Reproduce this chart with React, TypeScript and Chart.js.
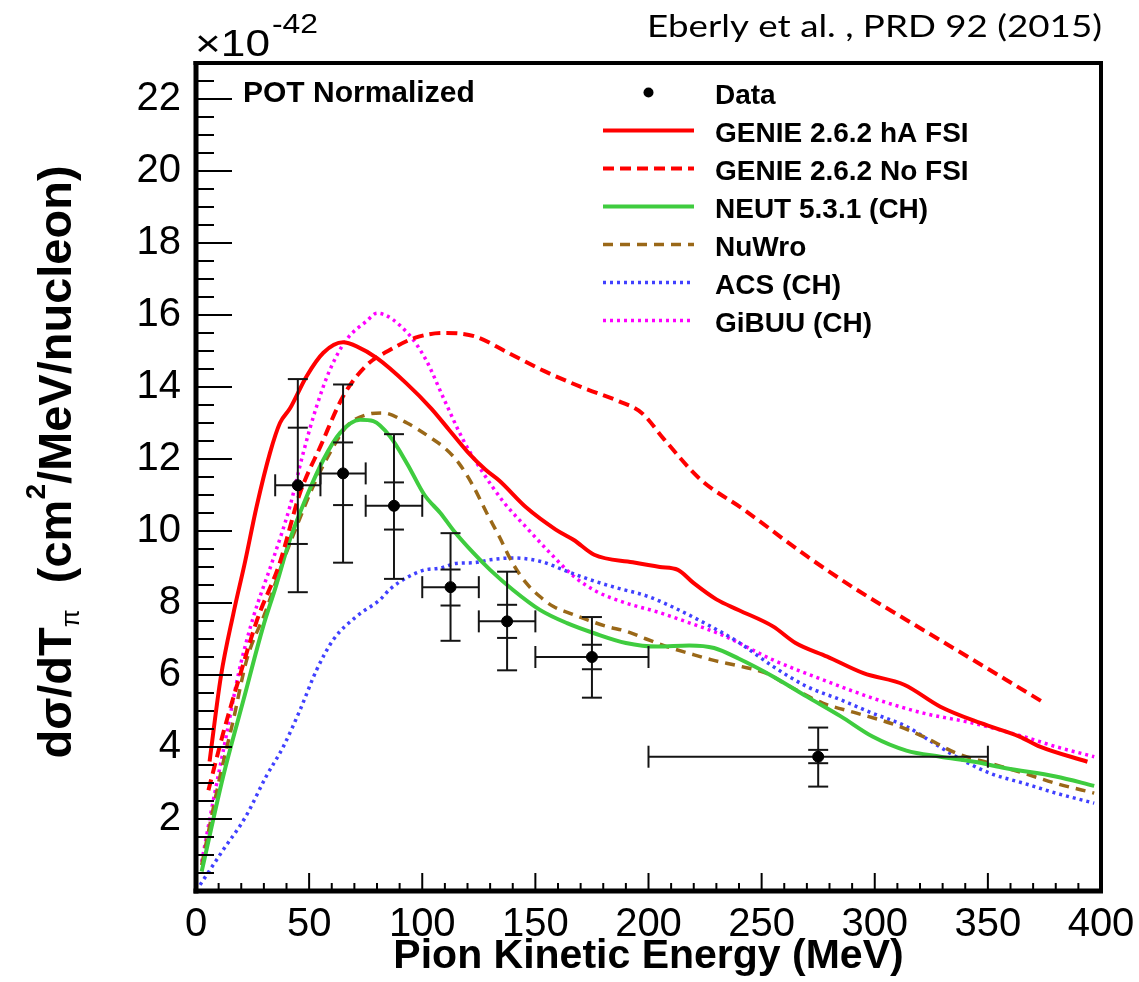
import React, { useEffect, useRef } from "react";
import { Chart, registerables } from "chart.js";

Chart.register(...registerables);

const FONT = "'Liberation Sans', Arial, Helvetica, sans-serif";

// ---- tick labels ----
const xTickValues = [0, 50, 100, 150, 200, 250, 300, 350, 400];
const yTickValues = [2, 4, 6, 8, 10, 12, 14, 16, 18, 20, 22];

// ---- measured data (MINERvA) ----
const dataE = [45, 65, 87.5, 112.5, 137.5, 175, 275];
const dataY = [11.27, 11.6, 10.7, 8.44, 7.49, 6.5, 3.73];
const binLo = [35, 55, 75, 100, 125, 150, 200];
const binHi = [55, 75, 100, 125, 150, 200, 350];
const statLo = [9.64, 10.72, 10.04, 7.93, 7.03, 6.16, 3.55];
const statHi = [12.87, 12.46, 11.35, 8.93, 7.95, 6.84, 3.92];
const totLo = [8.3, 9.12, 8.67, 6.95, 6.13, 5.37, 2.9];
const totHi = [14.22, 14.07, 12.69, 9.94, 8.87, 7.61, 4.54];

// ---- model curves ----
const genieFsiE = [6, 11, 16.5, 21.7, 26.8, 32.7, 37.1, 41.5, 48.9, 56.3, 65, 71, 80, 93, 104, 112, 120, 128, 134, 146, 159, 167, 176, 193, 205, 213, 220, 230, 240, 255, 265, 279, 295, 313, 329, 347, 364, 373, 394];
const genieFsiY = [3.6, 5.96, 7.7, 9.15, 10.68, 12.17, 13.0, 13.4, 14.3, 14.95, 15.24, 15.13, 14.8, 14.1, 13.4, 12.8, 12.2, 11.7, 11.4, 10.65, 10.04, 9.75, 9.34, 9.13, 9.0, 8.92, 8.55, 8.1, 7.8, 7.35, 6.89, 6.51, 6.05, 5.73, 5.12, 4.66, 4.29, 4.01, 3.59];

const genieNoFsiE = [5.5, 12, 19, 27, 37, 46, 55, 65, 75, 86, 97, 109, 123, 138, 154, 171, 187, 197, 207, 223, 242, 270, 292, 314, 336, 358, 375];
const genieNoFsiY = [2.8, 4.38, 5.9, 7.53, 9.11, 11.06, 12.35, 13.74, 14.58, 15.04, 15.37, 15.5, 15.41, 14.95, 14.44, 13.98, 13.6, 13.28, 12.54, 11.43, 10.6, 9.3, 8.37, 7.53, 6.7, 5.87, 5.22];

const neutE = [2.5, 12, 21, 29.7, 35, 41.5, 48.9, 56.3, 63.6, 72.5, 78.4, 85.7, 93.5, 101, 108, 114, 122.6, 130, 140, 152, 164, 176, 190, 204, 218, 229, 240, 255, 270, 285, 299, 314, 329, 344, 358, 380, 397];
const neutY = [0.54, 3.18, 5.31, 7.35, 8.4, 9.76, 10.96, 11.98, 12.72, 13.09, 13.05, 12.63, 11.85, 11.0, 10.5, 10.0, 9.39, 8.92, 8.37, 7.81, 7.44, 7.16, 6.89, 6.79, 6.82, 6.75, 6.45, 5.96, 5.4, 4.85, 4.29, 3.9, 3.73, 3.59, 3.41, 3.18, 2.92];

const nuwroE = [2.5, 10.6, 16.5, 22.4, 31, 37, 44.5, 51.8, 59.2, 66.6, 75.4, 82.8, 93.3, 103.5, 110, 116, 122.6, 128.5, 134, 140, 146, 152, 158, 165, 173, 181.5, 190.4, 199, 208, 218, 228, 240, 252, 262.5, 277, 292, 307, 321.5, 336, 351, 366, 380, 397];
const nuwroY = [0.72, 3.18, 4.75, 6.42, 7.8, 8.9, 10.13, 11.24, 12.17, 12.91, 13.23, 13.28, 13.0, 12.6, 12.3, 11.9, 11.24, 10.5, 9.85, 9.1, 8.55, 8.18, 7.9, 7.72, 7.53, 7.35, 7.21, 7.0, 6.79, 6.6, 6.42, 6.25, 6.05, 5.68, 5.22, 4.94, 4.66, 4.29, 3.83, 3.55, 3.27, 2.99, 2.72];

const acsE = [1.8, 12, 22, 31, 38.6, 46, 53.3, 60.7, 71, 81.3, 86, 100, 108, 115, 123, 130, 140, 152, 164, 174, 186, 199, 211, 226, 240, 255, 270, 285, 299, 314, 326, 336, 351, 366, 380, 397];
const acsY = [0.17, 1.14, 2.07, 3.18, 4.01, 5.03, 6.14, 6.98, 7.63, 8.09, 8.4, 8.9, 8.97, 9.1, 9.12, 9.2, 9.25, 9.16, 8.88, 8.65, 8.42, 8.2, 7.88, 7.4, 6.9, 6.24, 5.68, 5.31, 4.94, 4.57, 4.11, 3.73, 3.27, 2.99, 2.72, 2.44];

const gibuuE = [2.5, 7.7, 13.6, 19, 25.3, 34, 41.5, 47.4, 53.3, 59.2, 66.6, 75.4, 80, 93.5, 101.6, 109.7, 118, 126, 136, 146, 156.5, 167, 177, 190, 204, 218, 233, 255, 277, 299, 321.5, 343.6, 365.7, 380, 397];
const gibuuY = [0.81, 2.53, 4.38, 6.1, 7.6, 9.2, 10.68, 12.17, 13.46, 14.48, 15.32, 15.83, 16.05, 15.5, 14.76, 13.65, 12.54, 11.7, 10.8, 10.1, 9.39, 8.74, 8.32, 8.0, 7.75, 7.45, 7.1, 6.42, 5.87, 5.36, 4.94, 4.66, 4.29, 4.01, 3.73];

const dataLabel = "Data";
const curveLabels = ["GENIE 2.6.2 hA FSI", "GENIE 2.6.2 No FSI", "NEUT 5.3.1 (CH)", "NuWro", "ACS (CH)", "GiBUU (CH)"];
const curveXs = [genieFsiE, genieNoFsiE, neutE, nuwroE, acsE, gibuuE];
const curveYs = [genieFsiY, genieNoFsiY, neutY, nuwroY, acsY, gibuuY];

// styles (kept apart from data)
const curveStyles = [
  { color: "#ff0000", width: 4, dash: [] as number[] },
  { color: "#ff0000", width: 4, dash: [11, 6] },
  { color: "#3fcc3f", width: 4, dash: [] as number[] },
  { color: "#9a6818", width: 3.5, dash: [10, 7] },
  { color: "#4040ff", width: 3.5, dash: [3, 4] },
  { color: "#ff00ff", width: 3.5, dash: [3, 4] },
];

function seg(ctx: CanvasRenderingContext2D, x0: number, y0: number, x1: number, y1: number) {
  ctx.beginPath();
  ctx.moveTo(x0, y0);
  ctx.lineTo(x1, y1);
  ctx.stroke();
}

function fitText(ctx: CanvasRenderingContext2D, text: string, x: number, y: number, font: string, targetW?: number) {
  ctx.save();
  ctx.font = font;
  ctx.textAlign = "left";
  ctx.textBaseline = "alphabetic";
  const w = ctx.measureText(text).width;
  ctx.translate(x, y);
  if (targetW) ctx.scale(targetW / w, 1);
  ctx.fillText(text, 0, 0);
  ctx.restore();
}

const decorPlugin = {
  id: "decor",
  beforeDatasetDraw(chart: any, args: any) {
    if (args.index !== 0) return;
    const ctx: CanvasRenderingContext2D = chart.ctx;
    const xs = chart.scales.x;
    const ys = chart.scales.y;
    ctx.save();
    ctx.strokeStyle = "#141414";
    ctx.lineWidth = 2;
    ctx.setLineDash([]);
    for (let i = 0; i < dataE.length; i++) {
      const px = xs.getPixelForValue(dataE[i]);
      const py = ys.getPixelForValue(dataY[i]);
      const x0 = xs.getPixelForValue(binLo[i]);
      const x1 = xs.getPixelForValue(binHi[i]);
      seg(ctx, x0, py, x1, py);
      seg(ctx, x0, py - 11, x0, py + 11);
      seg(ctx, x1, py - 11, x1, py + 11);
      const t0 = ys.getPixelForValue(totLo[i]);
      const t1 = ys.getPixelForValue(totHi[i]);
      seg(ctx, px, t0, px, t1);
      for (const v of [totLo[i], totHi[i], statLo[i], statHi[i]]) {
        const yy = ys.getPixelForValue(v);
        seg(ctx, px - 10, yy, px + 10, yy);
      }
    }
    ctx.restore();
  },
  afterDraw(chart: any) {
    const ctx: CanvasRenderingContext2D = chart.ctx;
    const ca = chart.chartArea;
    const xs = chart.scales.x;
    const ys = chart.scales.y;
    ctx.save();
    ctx.setLineDash([]);
    ctx.strokeStyle = "#000";
    // frame
    ctx.lineWidth = 4;
    seg(ctx, ca.left - 2.5, ca.top, ca.right + 2, ca.top);
    seg(ctx, ca.right, ca.top, ca.right, ca.bottom);
    ctx.lineWidth = 5;
    seg(ctx, ca.left, ca.top - 2, ca.left, ca.bottom + 2.5);
    seg(ctx, ca.left - 2.5, ca.bottom, ca.right + 2, ca.bottom);
    // ticks
    ctx.lineWidth = 2;
    for (let v = 10; v < 400; v += 10) {
      const px = xs.getPixelForValue(v);
      const len = v % 50 === 0 ? 18 : 8;
      seg(ctx, px, ca.bottom, px, ca.bottom - len);
    }
    for (let v = 0.5; v < 23; v += 0.5) {
      const py = ys.getPixelForValue(v);
      const len = v % 2 === 0 ? 36 : 18;
      seg(ctx, ca.left, py, ca.left + len, py);
    }

    // legend
    ctx.fillStyle = "#000";
    const legX0 = 603, legX1 = 694, textX = 715, base0 = 103.5, step = 38;
    ctx.beginPath();
    ctx.arc(648.5, base0 - 11, 5, 0, Math.PI * 2);
    ctx.fill();
    fitText(ctx, dataLabel, textX, base0, `bold 28px ${FONT}`);
    curveLabels.forEach((lab, i) => {
      const b = base0 + step * (i + 1);
      const st = curveStyles[i];
      ctx.save();
      ctx.strokeStyle = st.color;
      ctx.lineWidth = st.width;
      ctx.setLineDash(st.dash);
      seg(ctx, legX0, b - 11, legX1, b - 11);
      ctx.restore();
      fitText(ctx, lab, textX, b, `bold 28px ${FONT}`);
    });

    // POT Normalized
    fitText(ctx, "POT Normalized", 243, 101.5, `bold 30px ${FONT}`);

    // x10^-42
    fitText(ctx, "\u00d710", 195, 56, `36px ${FONT}`, 75);
    fitText(ctx, "-42", 272, 33, `28px ${FONT}`, 46);

    // citation
    fitText(ctx, "Eberly et al. , PRD 92 (2015)", 647, 37, `31px Lato, 'Open Sans', sans-serif`, 455);

    // y title with sub/superscripts
    const runs = [
      { t: "d\u03c3/dT", f: `bold 47px ${FONT}`, dy: 0 },
      { t: "\u03c0", f: `26px ${FONT}`, dy: 8 },
      { t: "  (cm", f: `bold 47px ${FONT}`, dy: 0 },
      { t: "2", f: `bold 28px ${FONT}`, dy: -26 },
      { t: "/MeV/nucleon)", f: `bold 47px ${FONT}`, dy: 0 },
    ];
    ctx.save();
    ctx.translate(71, 462);
    ctx.rotate(-Math.PI / 2);
    ctx.textBaseline = "alphabetic";
    ctx.textAlign = "left";
    let total = 0;
    const ws = runs.map((r) => {
      ctx.font = r.f;
      const w = ctx.measureText(r.t).width;
      total += w;
      return w;
    });
    let cx = -total / 2;
    runs.forEach((r, i) => {
      ctx.font = r.f;
      ctx.fillText(r.t, cx, r.dy);
      cx += ws[i];
    });
    ctx.restore();

    ctx.restore();
  },
};

export default function App() {
  const ref = useRef<HTMLCanvasElement>(null);
  useEffect(() => {
    const canvas = ref.current;
    if (!canvas) return;
    const datasets: any[] = [
      {
        type: "scatter",
        label: dataLabel,
        data: dataE.map((x, i) => ({ x, y: dataY[i] })),
        pointRadius: 5.5,
        pointBackgroundColor: "#000",
        pointBorderColor: "#000",
        showLine: false,
        order: 0,
      },
      ...curveLabels.map((lab, i) => ({
        type: "line",
        label: lab,
        data: curveXs[i].map((x, j) => ({ x, y: curveYs[i][j] })),
        borderColor: curveStyles[i].color,
        borderWidth: curveStyles[i].width,
        borderDash: curveStyles[i].dash,
        borderCapStyle: "butt",
        pointRadius: 0,
        fill: false,
        cubicInterpolationMode: "monotone",
        order: i + 1,
      })),
    ];
    const chart = new Chart(canvas, {
      type: "line",
      data: { datasets },
      plugins: [decorPlugin],
      options: {
        responsive: false,
        animation: false,
        events: [],
        layout: { padding: { left: 0, right: 38, top: 63, bottom: 0 } },
        plugins: { legend: { display: false }, tooltip: { enabled: false } },
        scales: {
          x: {
            type: "linear",
            min: 0,
            max: 400,
            afterBuildTicks: (s: any) => {
              s.ticks = xTickValues.map((v) => ({ value: v }));
            },
            afterFit: (s: any) => {
              s.height = 91;
            },
            grid: { display: false },
            border: { display: false },
            ticks: {
              font: { family: FONT, size: 40 },
              color: "#000",
              padding: 2,
              maxRotation: 0,
              autoSkip: false,
            },
            title: {
              display: true,
              text: "Pion Kinetic Energy (MeV)",
              font: { family: FONT, size: 41, weight: "bold" },
              color: "#000",
              padding: { top: 0, bottom: 1 },
            },
          },
          y: {
            type: "linear",
            min: 0,
            max: 23,
            afterBuildTicks: (s: any) => {
              s.ticks = yTickValues.map((v) => ({ value: v }));
            },
            afterFit: (s: any) => {
              s.width = 196;
            },
            grid: { display: false },
            border: { display: false },
            ticks: {
              font: { family: FONT, size: 40 },
              color: "#000",
              padding: 7,
              autoSkip: false,
            },
          },
        },
      } as any,
    });
    return () => chart.destroy();
  }, []);
  return (
    <div style={{ position: "absolute", left: 0, top: 0, width: 1139, height: 982, background: "#fff" }}>
      <canvas ref={ref} width={1139} height={982} style={{ display: "block" }} />
    </div>
  );
}
